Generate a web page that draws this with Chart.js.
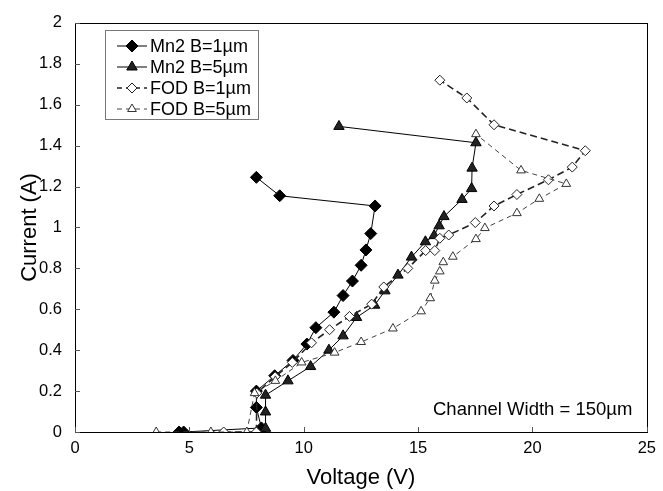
<!DOCTYPE html>
<html>
<head>
<meta charset="utf-8">
<script src="https://cdn.jsdelivr.net/npm/chart.js@4/dist/chart.umd.min.js"></script>
<style>
html,body{margin:0;padding:0;background:#fff;}
#wrap{width:663px;height:491px;position:relative;}
</style>
</head>
<body>
<div id="wrap"><canvas id="c" width="663" height="491"></canvas></div>
<script>
// ---- data (Voltage V, Current A) ----
const mn2B1V = [4.55, 4.75, 8.15, 7.93, 7.93, 8.73, 9.53, 10.14, 10.53, 11.32, 11.72, 12.13, 12.51, 12.72, 12.93, 13.12, 8.95, 7.93];
const mn2B1I = [0, 0, 0.02, 0.12, 0.20, 0.275, 0.35, 0.43, 0.51, 0.586, 0.667, 0.738, 0.815, 0.89, 0.97, 1.105, 1.155, 1.245];

const mn2B5V = [8.2, 8.33, 8.33, 8.33, 9.31, 10.3, 11.1, 11.72, 12.31, 13.1, 13.55, 14.12, 14.71, 15.32, 15.7, 15.92, 16.13, 16.92, 17.34, 17.36, 17.53, 11.54];
const mn2B5I = [0.0, 0.018, 0.098, 0.18, 0.25, 0.32, 0.40, 0.47, 0.56, 0.62, 0.69, 0.767, 0.855, 0.93, 0.96, 1.008, 1.053, 1.137, 1.19, 1.29, 1.414, 1.494];

const fodB1V = [6.5, 7.93, 7.95, 8.75, 9.5, 10.34, 11.13, 12.0, 12.97, 13.5, 14.55, 15.33, 15.73, 15.95, 16.34, 17.5, 18.32, 19.32, 20.7, 21.74, 22.31, 18.32, 17.13, 15.95];
const fodB1I = [0, 0, 0.19, 0.27, 0.34, 0.436, 0.50, 0.565, 0.625, 0.709, 0.80, 0.887, 0.887, 0.947, 0.963, 1.024, 1.105, 1.161, 1.233, 1.295, 1.375, 1.502, 1.633, 1.72];

const fodB5V = [3.55, 5.94, 7.51, 7.85, 8.76, 9.91, 11.35, 12.51, 13.9, 15.13, 15.53, 15.73, 15.95, 16.1, 16.52, 17.53, 17.92, 19.32, 20.3, 21.48, 19.5, 17.53];
const fodB5I = [0, 0, 0, 0.19, 0.25, 0.34, 0.388, 0.44, 0.506, 0.59, 0.654, 0.74, 0.785, 0.83, 0.857, 0.943, 0.997, 1.07, 1.14, 1.213, 1.279, 1.456];

const seriesLabels = ['Mn2 B=1\u00b5m', 'Mn2 B=5\u00b5m', 'FOD B=1\u00b5m', 'FOD B=5\u00b5m'];
const xTicks = [0, 5, 10, 15, 20, 25];
const yTicks = [0, 0.2, 0.4, 0.6, 0.8, 1, 1.2, 1.4, 1.6, 1.8, 2];
const xTitle = 'Voltage (V)';
const yTitle = 'Current (A)';
const noteText = 'Channel Width = 150\u00b5m';

const FONT = '"Liberation Sans", Arial, Helvetica, sans-serif';
function pts(xs, ys){ return xs.map((x,i)=>({x:x, y:ys[i]})); }

const styles = [
  {pointStyle:'rectRot', radius:6, bg:'#000', border:'#000', dash:[], width:1, color:'#000'},
  {pointStyle:'triangle', radius:6, bg:'#222', border:'#000', dash:[], width:1, color:'#000'},
  {pointStyle:'rectRot', radius:5, bg:'#fff', border:'#222', dash:[7,4], width:1.6, color:'#222'},
  {pointStyle:'triangle', radius:5, bg:'#fff', border:'#333', dash:[5,4], width:1, color:'#444'}
];
const dataSets = [pts(mn2B1V,mn2B1I), pts(mn2B5V,mn2B5I), pts(fodB1V,fodB1I), pts(fodB5V,fodB5I)];

const datasets = dataSets.map((d,i)=>({
  label: seriesLabels[i],
  data: d,
  showLine: true,
  borderColor: styles[i].color,
  borderWidth: styles[i].width,
  borderDash: styles[i].dash,
  pointStyle: styles[i].pointStyle,
  pointRadius: styles[i].radius,
  pointBackgroundColor: styles[i].bg,
  pointBorderColor: styles[i].border,
  pointBorderWidth: 1,
  tension: 0,
  order: 4 - i
}));

function drawMarker(ctx, style, x, y, r, bg, border){
  ctx.save();
  ctx.setLineDash([]);
  ctx.beginPath();
  if (style === 'rectRot'){
    ctx.moveTo(x, y - r); ctx.lineTo(x + r, y); ctx.lineTo(x, y + r); ctx.lineTo(x - r, y); ctx.closePath();
  } else {
    ctx.moveTo(x, y - r); ctx.lineTo(x + r*0.87, y + r*0.5); ctx.lineTo(x - r*0.87, y + r*0.5); ctx.closePath();
  }
  ctx.fillStyle = bg; ctx.fill();
  ctx.strokeStyle = border; ctx.lineWidth = 1; ctx.stroke();
  ctx.restore();
}

const framePlugin = {
  id: 'frame',
  afterDraw(chart){
    const ctx = chart.ctx, a = chart.chartArea;
    const xs = chart.scales.x, ys = chart.scales.y;
    ctx.save();
    ctx.strokeStyle = '#000'; ctx.lineWidth = 1; ctx.setLineDash([]);
    ctx.strokeRect(Math.round(a.left)+0.5, Math.round(a.top)+0.5, Math.round(a.right-a.left), Math.round(a.bottom-a.top));
    // inward ticks
    ctx.strokeStyle = '#555';
    xTicks.forEach(v=>{ const px = Math.round(xs.getPixelForValue(v))+0.5; ctx.beginPath(); ctx.moveTo(px, a.bottom); ctx.lineTo(px, a.bottom-5); ctx.stroke(); });
    yTicks.forEach(v=>{ const py = Math.round(ys.getPixelForValue(v))+0.5; ctx.beginPath(); ctx.moveTo(a.left, py); ctx.lineTo(a.left+5, py); ctx.stroke(); });
    // note text
    ctx.fillStyle = '#000';
    ctx.font = '18.5px ' + FONT;
    ctx.textAlign = 'left'; ctx.textBaseline = 'middle';
    ctx.fillText(noteText, 433, 410);
    // legend
    const bx = 105, by = 30, bw = 153, bh = 89;
    ctx.fillStyle = '#fff'; ctx.fillRect(bx, by, bw, bh);
    ctx.strokeStyle = '#777'; ctx.lineWidth = 1;
    ctx.strokeRect(bx+0.5, by+0.5, bw, bh);
    const rows = [46, 67, 88, 109];
    chart.data.datasets.forEach((ds, i)=>{
      const s = styles[i], y = rows[i];
      ctx.save();
      ctx.strokeStyle = s.color; ctx.lineWidth = s.width; ctx.setLineDash(s.dash.length ? [5,4] : []);
      ctx.beginPath(); ctx.moveTo(117, y); ctx.lineTo(147, y); ctx.stroke();
      ctx.restore();
      drawMarker(ctx, s.pointStyle, 132, y, s.radius, s.bg, s.border);
      ctx.fillStyle = '#000'; ctx.font = '18px ' + FONT;
      ctx.textAlign = 'left'; ctx.textBaseline = 'middle';
      ctx.fillText(ds.label, 150, y + 1);
    });
    ctx.restore();
  }
};

new Chart(document.getElementById('c'), {
  type: 'scatter',
  data: { datasets },
  options: {
    responsive: false,
    animation: false,
    events: [],
    layout: { padding: { left: 0, right: 8, top: 18, bottom: 0 } },
    plugins: { legend: { display: false }, tooltip: { enabled: false } },
    scales: {
      x: {
        type: 'linear', min: 0, max: 25,
        afterFit(s){ s.height = 59; },
        afterBuildTicks(s){ s.ticks = xTicks.map(v=>({value:v})); },
        grid: { display: false, drawTicks: false },
        border: { display: false },
        ticks: { color: '#000', font: { family: FONT, size: 16.5 }, padding: 7, maxRotation: 0, callback: v => String(v) },
        title: { display: true, text: xTitle, color: '#000', font: { family: FONT, size: 22 }, padding: { top: 0, bottom: 0 } }
      },
      y: {
        type: 'linear', min: 0, max: 2,
        afterFit(s){ s.width = 75; },
        afterBuildTicks(s){ s.ticks = yTicks.map(v=>({value:v})); },
        grid: { display: false, drawTicks: false },
        border: { display: false },
        ticks: { color: '#000', font: { family: FONT, size: 16.5 }, padding: 13, callback: v => String(v) },
        title: { display: true, text: yTitle, color: '#000', font: { family: FONT, size: 22 }, padding: { top: 17, bottom: 0 } }
      }
    }
  },
  plugins: [framePlugin]
});
</script>
</body>
</html>
